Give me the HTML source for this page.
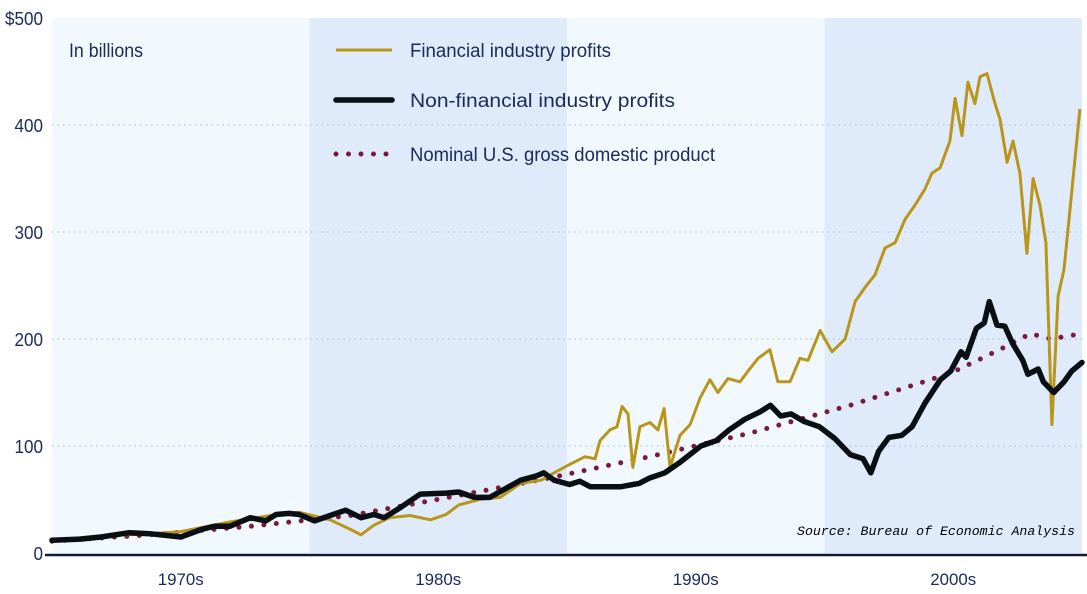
<!DOCTYPE html>
<html><head><meta charset="utf-8"><style>
body{margin:0;background:#fff;}
svg{display:block;font-family:"Liberation Sans Narrow","Liberation Sans",sans-serif;}
</style></head><body>
<svg id="chart" width="1087" height="594" viewBox="0 0 1087 594" xmlns="http://www.w3.org/2000/svg">
<g id="bands"></g><g id="grid"></g><g id="series"></g><g id="axes"></g><g id="legend"></g>
</svg>
<script>
const decadeLabels=["1970s","1980s","1990s","2000s"];
const yTicks=[0,100,200,300,400,500];
const finYears=[1965,1966.9,1968.8,1970,1971.9,1973.5,1974.6,1975.8,1976.6,1977,1977.5,1978.1,1978.9,1979.7,1980.3,1980.8,1981.6,1982.4,1983.2,1984,1984.5,1985.04,1985.7,1986.09,1986.28,1986.67,1986.94,1987.14,1987.37,1987.56,1987.83,1988.22,1988.53,1988.77,1989.0,1989.39,1989.78,1990.17,1990.55,1990.86,1991.25,1991.72,1992.03,1992.42,1992.88,1993.19,1993.66,1994.05,1994.36,1994.83,1995.29,1995.8,1996.19,1996.57,1996.96,1997.35,1997.74,1998.13,1998.51,1998.9,1999.17,1999.49,1999.87,2000.07,2000.34,2000.57,2000.84,2001.04,2001.31,2001.62,2001.82,2002.09,2002.32,2002.59,2002.86,2003.1,2003.37,2003.6,2003.83,2004.07,2004.3,2004.61,2004.92];
const finValues=[12,16,18,20,29,35,38,31,22,17,26,33,35,31,36,45,50,52,65,68,75,82,90,88,105,115,118,137,130,80,118,122,115,135,80,110,120,145,162,150,163,160,170,182,190,160,160,182,180,208,188,200,235,248,260,285,290,312,325,340,355,360,385,425,390,440,420,445,448,420,405,365,385,355,280,350,325,290,120,240,265,340,415];
const nonfinYears=[1965,1966.1,1966.9,1968.0,1968.8,1970,1970.8,1971.3,1971.9,1972.7,1973.3,1973.7,1974.2,1974.6,1975.2,1975.8,1976.4,1977,1977.5,1977.9,1978.5,1979.3,1980.3,1980.8,1981.4,1982,1982.6,1983.2,1983.8,1984.1,1984.5,1985.1,1985.5,1985.9,1987.1,1987.8,1988.2,1988.8,1989.4,1990.2,1990.8,1991.3,1991.9,1992.5,1992.9,1993.3,1993.7,1994.2,1994.8,1995.4,1996,1996.5,1996.8,1997.1,1997.5,1998,1998.4,1998.9,1999.5,1999.9,2000.3,2000.5,2000.9,2001.2,2001.4,2001.7,2002,2002.3,2002.7,2002.9,2003.3,2003.5,2003.9,2004.3,2004.6,2005];
const nonfinValues=[12,13,15,19,18,15,22,25,25,33,30,36,37,36,30,35,40,33,36,33,42,55,56,57,52,52,60,68,72,75,68,64,67,62,62,65,70,75,85,100,105,115,125,132,138,128,130,123,118,107,92,88,75,95,108,110,118,140,162,170,188,183,210,215,235,213,212,196,180,167,172,160,150,160,170,178];
const gdpYears=[1965,1968.8,1972.7,1976.6,1980.4,1984.3,1988.2,1992.1,1996,1999.9,2001.8,2003,2003.8,2005];
const gdpValues=[11,17,25,35,52,70,90,112,138,168,190,205,200,205];

const NS="http://www.w3.org/2000/svg";
const X0=52,X1=1082,Y0=553,Y1=18;
const xs=y=>X0+(y-1965)/40*(X1-X0);
const ys=v=>Y0-v/500*(Y0-Y1);
function el(tag,attrs,parent){const e=document.createElementNS(NS,tag);for(const k in attrs)e.setAttribute(k,attrs[k]);parent.appendChild(e);return e;}
const bands=document.getElementById('bands'),grid=document.getElementById('grid'),series=document.getElementById('series'),axes=document.getElementById('axes'),legend=document.getElementById('legend');

for(let i=0;i<4;i++){
  const a=xs(1965+i*10),b=xs(1975+i*10);
  const r=el('rect',{x:a,y:Y1,width:b-a,height:Y0-Y1,fill:i%2?'#dfeafb':'#f1f9ff'},bands);
  
  
  const t=el('text',{x:xs(1970+i*10),y:585,'text-anchor':'middle','font-size':17,fill:'#1a2a5a',textLength:46,lengthAdjust:'spacingAndGlyphs'},axes);
  t.textContent=decadeLabels[i];
  
  
}
yTicks.forEach(v=>{
  if(v>0&&v<500){const g=el('line',{x1:X0,x2:X1,y1:ys(v),y2:ys(v),stroke:'#a9c4ea','stroke-width':1.3,'stroke-dasharray':'1.5 4'},grid);
  
  }
  const lab=(v===500?'$':'')+v;
  const t=el('text',{x:43,y:ys(v)+7,'text-anchor':'end','font-size':18,fill:'#1a2a5a',textLength:lab.length*9.5,lengthAdjust:'spacingAndGlyphs'},axes);
  t.textContent=lab;
  
  
});
const ax=el('line',{x1:45,x2:1087,y1:555,y2:555,stroke:'#0d1a3a','stroke-width':2.5},axes);



function path(xa,va){return xa.map((y,i)=>(i?'L':'M')+xs(y).toFixed(1)+','+ys(va[i]).toFixed(1)).join('');}
const gdp=el('path',{d:path(gdpYears,gdpValues),fill:'none',stroke:'#7a1a3a','stroke-width':5,'stroke-linecap':'round','stroke-dasharray':'0 12.5'},series);


const fin=el('path',{d:path(finYears,finValues),fill:'none',stroke:'#b8961a','stroke-width':3,'stroke-linejoin':'round'},series);


const nf=el('path',{d:path(nonfinYears,nonfinValues),fill:'none',stroke:'#0a0f14','stroke-width':5.5,'stroke-linejoin':'round','stroke-linecap':'round'},series);



const lt=el('text',{x:69,y:57,'font-size':19,fill:'#1a2a5a',textLength:74,lengthAdjust:'spacingAndGlyphs'},legend);
lt.textContent='In billions';


const items=[['Financial industry profits',50,201,{stroke:'#b8961a','stroke-width':3}],['Non-financial industry profits',100,265,{stroke:'#0a0f14','stroke-width':5.5,'stroke-linecap':'round'}],['Nominal U.S. gross domestic product',154,305,{stroke:'#7a1a3a','stroke-width':5,'stroke-linecap':'round','stroke-dasharray':'0 12.5'}]];
items.forEach(it=>{
  const l=el('line',Object.assign({x1:336,x2:392,y1:it[1],y2:it[1]},it[3]),legend);
  
  
  const t=el('text',{x:410,y:it[1]+7,'font-size':19,fill:'#1a2a5a',textLength:it[2],lengthAdjust:'spacingAndGlyphs'},legend);
  t.textContent=it[0];
  
  
});
const src=el('text',{x:797,y:535,'font-size':13,'font-style':'italic',fill:'#000','font-family':'Liberation Mono, monospace',textLength:278,lengthAdjust:'spacingAndGlyphs'},legend);
src.textContent='Source: Bureau of Economic Analysis';


</script>
</body></html>
